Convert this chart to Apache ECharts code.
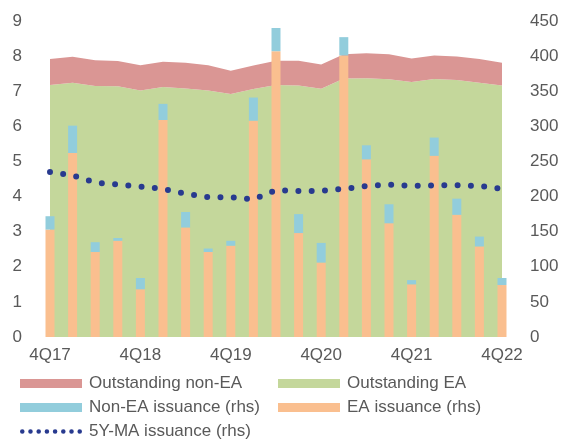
<!DOCTYPE html>
<html>
<head>
<meta charset="utf-8">
<script src="https://cdn.jsdelivr.net/npm/echarts@6/dist/echarts.min.js"></script>
<style>
  html, body { margin: 0; padding: 0; background: #fff; }
  #chart { width: 563px; height: 441px; }
</style>
</head>
<body>
<div id="chart"></div>
<script>
// quarters 4Q17 .. 4Q22
const quarters = ['4Q17','1Q18','2Q18','3Q18','4Q18','1Q19','2Q19','3Q19','4Q19','1Q20','2Q20','3Q20','4Q20','1Q21','2Q21','3Q21','4Q21','1Q22','2Q22','3Q22','4Q22']
// outstanding (lhs)
const outEA =    [7.18,7.24,7.15,7.14,7.02,7.12,7.08,7.02,6.92,7.06,7.18,7.16,7.07,7.36,7.37,7.34,7.26,7.35,7.32,7.24,7.16]
const outNonEA = [0.74,0.74,0.73,0.72,0.72,0.72,0.73,0.72,0.66,0.67,0.69,0.71,0.69,0.69,0.71,0.71,0.67,0.67,0.67,0.68,0.65]
// issuance (rhs)
const issEA =    [153,262,121,137,68,309,156,121,130,308,407,148,106,401,253,162,75,258,174,129,74]
const issNonEA = [19,39,14,4,16,23,22,5,7,33,33,27,28,26,20,27,6,26,23,14,10]
const ma5y =     [235,230,220,217,214,211,204,199,199,196,209,208,208,211,215,217,215,216,216,215,211]

const txt = '#595959'
const font = 'Liberation Sans'
const navy = '#283A8F'

// dotted legend icon: 8 round dots in a row
let dotPath = 'path://'
for (let i = 0; i < 8; i++) {
  let x = i * 9
  dotPath += 'M' + x + ',2.5a2.5,2.5 0 1,0 5,0a2.5,2.5 0 1,0 -5,0Z'
}

function legendBox(left, top, items, h){
  return {
    orient: 'vertical', left: left, top: top, itemGap: 7, padding: 0,
    itemWidth: 62, itemHeight: h || 9,
    textStyle: { color: txt, fontSize: 17, fontFamily: font, padding: [0,0,0,2] },
    data: items
  }
}

let chart = echarts.init(document.getElementById('chart'))
let option = {
  animation: false,
  textStyle: { fontFamily: font },
  grid: { left: 50, right: 61, top: 21, bottom: 104 },
  legend: [
    legendBox(20, 375, [
      { name: 'Outstanding non-EA', icon: 'rect' },
      { name: 'Non-EA issuance (rhs)', icon: 'rect' }
    ]),
    legendBox(20, 423, [
      { name: '5Y-MA issuance (rhs)', icon: dotPath, itemStyle: { color: navy } }
    ], 5),
    legendBox(278, 375, [
      { name: 'Outstanding EA', icon: 'rect' },
      { name: 'EA issuance (rhs)', icon: 'rect' }
    ])
  ],
  xAxis: {
    type: 'category',
    data: quarters,
    boundaryGap: false,
    axisLine: { show: false },
    axisTick: { show: false },
    axisLabel: { color: txt, fontSize: 17, interval: 3, margin: 10 }
  },
  yAxis: [
    {
      type: 'value', min: 0, max: 9, interval: 1,
      splitLine: { show: false },
      axisLabel: { color: txt, fontSize: 17, margin: 28 }
    },
    {
      type: 'value', min: 0, max: 450, interval: 50,
      splitLine: { show: false },
      axisLabel: { color: txt, fontSize: 17, margin: 28 }
    }
  ],
  series: [
    {
      name: 'Outstanding EA', type: 'line', stack: 'out', yAxisIndex: 0,
      data: outEA, showSymbol: false, lineStyle: { width: 0 },
      itemStyle: { color: '#C4D79B' },
      areaStyle: { color: '#C4D79B', opacity: 1 }, z: 1
    },
    {
      name: 'Outstanding non-EA', type: 'line', stack: 'out', yAxisIndex: 0,
      data: outNonEA, showSymbol: false, lineStyle: { width: 0 },
      itemStyle: { color: '#DA9694' },
      areaStyle: { color: '#DA9694', opacity: 1 }, z: 1
    },
    {
      name: 'EA issuance (rhs)', type: 'bar', stack: 'iss', yAxisIndex: 1,
      data: issEA, barWidth: 9, clip: false,
      itemStyle: { color: '#FABF8F' }, z: 3
    },
    {
      name: 'Non-EA issuance (rhs)', type: 'bar', stack: 'iss', yAxisIndex: 1,
      data: issNonEA, barWidth: 9, clip: false,
      itemStyle: { color: '#92CDDC' }, z: 3
    },
    {
      name: '5Y-MA issuance (rhs)', type: 'line', yAxisIndex: 1,
      data: ma5y, showSymbol: false, symbol: 'none',
      itemStyle: { color: navy },
      lineStyle: { color: navy, width: 6, type: [0, 13.3], cap: 'round' },
      z: 5
    }
  ]
}
chart.setOption(option)
</script>
</body>
</html>
